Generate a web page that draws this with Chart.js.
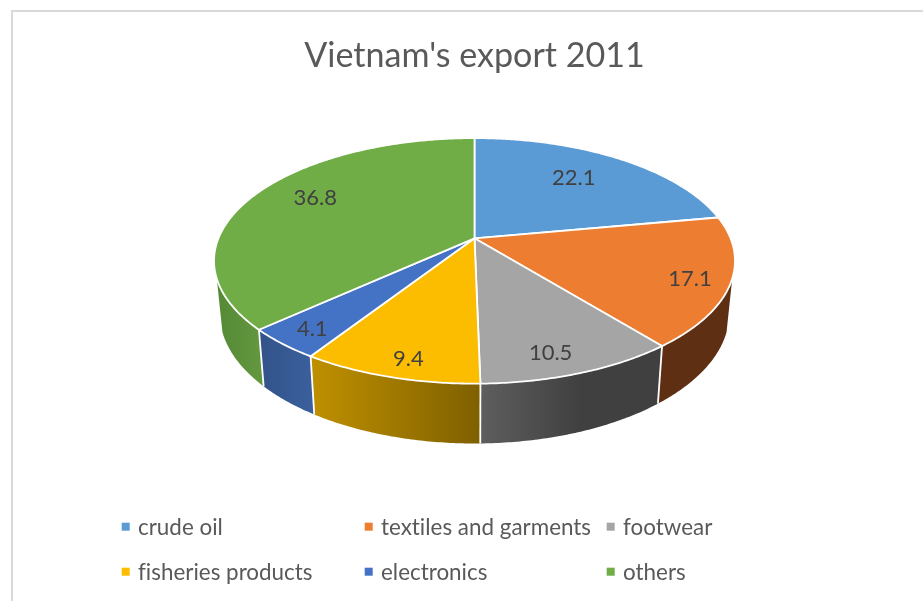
<!DOCTYPE html>
<html>
<head>
<meta charset="utf-8">
<script src="https://cdn.jsdelivr.net/npm/chart.js@4"></script>
<style>
  html, body { margin: 0; padding: 0; background: #fff; overflow: hidden; width: 923px; height: 601px; }
  #frame { position: absolute; left: 11px; top: 10px; width: 930px; height: 600px;
           border-left: 2px solid #d9d9d9; border-top: 2px solid #d9d9d9; }
  #stage { position: absolute; left: 0; top: 0; width: 921px; height: 589px; }
</style>
</head>
<body>
<div id="frame"><div id="stage"><canvas id="pie"></canvas></div></div>
<script>
const chartTitle = "Vietnam's export 2011";
const categories = ['crude oil', 'textiles and garments', 'footwear', 'fisheries products', 'electronics', 'others'];
const shares = [22.1, 17.1, 10.5, 9.4, 4.1, 36.8];
const faceColors = ['#5B9BD5', '#ED7D31', '#A5A5A5', '#FCBD00', '#4472C4', '#70AD47'];
const wallColors = [
  ['#355d80', '#355d80'],
  ['#5f2f13', '#5f2f13'],
  ['#5e5e5e', '#404040'],
  ['#bf9000', '#7f6000'],
  ['#335389', '#3a5f9c'],
  ['#558a35', '#62963f']
];

// Tilted-disc projection, expressed as multiples of the pie's radius.
const TILT = { rimX: 1.666, rimY: 0.772, perspective: 0.1837 };
const BASE = { shrinkX: 0.978, growY: 1.06, drop: 0.3325 };
const WALL_FROM = 108.7 * Math.PI / 180;
const WALL_TO = 251.3 * Math.PI / 180;

// Where each value label sits on the disc (fractions of the radius, right and toward the viewer).
const labelSpots = [[0.427, -0.559], [0.791, 0.3255], [0.2527, 0.818], [-0.2177, 0.8545], [-0.556, 0.667], [-0.663, -0.36]];

const legendColumns = [125, 368, 610];
const legendRows = [514.7, 559.7];

function project(arc, u, v, onBase) {
  const r = arc.outerRadius;
  const w = 1 - TILT.perspective * v;
  const x = TILT.rimX * r * u / w;
  const y = TILT.rimY * r * v / w;
  if (!onBase) return [arc.x + x, arc.y + y];
  return [arc.x + BASE.shrinkX * x, arc.y + BASE.drop * r + BASE.growY * y];
}

// Angle measured clockwise from twelve o'clock.
function rimPoint(arc, theta, onBase) {
  return project(arc, Math.sin(theta), -Math.cos(theta), onBase);
}

function traceRim(ctx, arc, from, to, onBase, moveFirst) {
  const steps = Math.max(2, Math.ceil(Math.abs(to - from) / 0.01));
  for (let i = 0; i <= steps; i++) {
    const p = rimPoint(arc, from + (to - from) * i / steps, onBase);
    if (i === 0 && moveFirst) ctx.moveTo(p[0], p[1]); else ctx.lineTo(p[0], p[1]);
  }
}

const tiltedPie = {
  id: 'tiltedPie',
  beforeDatasetsDraw(chart) {
    const ctx = chart.ctx;
    const arcs = chart.getDatasetMeta(0).data;
    const turn = a => a + Math.PI / 2;
    ctx.save();

    // Side walls of the slices facing the viewer.
    arcs.forEach((arc, i) => {
      const from = Math.max(turn(arc.startAngle), WALL_FROM);
      const to = Math.min(turn(arc.endAngle), WALL_TO);
      if (to <= from) return;
      const a = rimPoint(arc, from, false), b = rimPoint(arc, to, false);
      const grad = ctx.createLinearGradient(Math.min(a[0], b[0]), 0, Math.max(a[0], b[0]), 0);
      const leftFirst = wallColors[i];
      grad.addColorStop(0, leftFirst[0]);
      grad.addColorStop(i === 2 ? 0.55 : 1, leftFirst[1]);
      ctx.beginPath();
      traceRim(ctx, arc, from, to, false, true);
      traceRim(ctx, arc, to, from, true, false);
      ctx.closePath();
      ctx.fillStyle = grad;
      ctx.fill();
    });

    // White seams between neighbouring walls.
    ctx.strokeStyle = '#ffffff';
    ctx.lineWidth = 1.8;
    arcs.forEach(arc => {
      const t = turn(arc.endAngle);
      if (t <= WALL_FROM || t >= WALL_TO) return;
      const a = rimPoint(arc, t, false), b = rimPoint(arc, t, true);
      ctx.beginPath();
      ctx.moveTo(a[0], a[1]);
      ctx.lineTo(b[0], b[1]);
      ctx.stroke();
    });

    // Top faces with their white outlines.
    ctx.lineJoin = 'round';
    arcs.forEach((arc, i) => {
      ctx.beginPath();
      ctx.moveTo(arc.x, arc.y);
      traceRim(ctx, arc, turn(arc.startAngle), turn(arc.endAngle), false, false);
      ctx.closePath();
      ctx.fillStyle = faceColors[i];
      ctx.fill();
      ctx.stroke();
    });

    // Value labels.
    ctx.fillStyle = '#404040';
    ctx.font = '22px Lato';
    ctx.textAlign = 'center';
    ctx.textBaseline = 'middle';
    arcs.forEach((arc, i) => {
      const p = project(arc, labelSpots[i][0], labelSpots[i][1], false);
      ctx.fillText(shares[i].toFixed(1), p[0], p[1]);
    });
    ctx.restore();
    return false;
  },
  afterDraw(chart) {
    // Legend set out on a fixed three-column grid.
    const ctx = chart.ctx;
    ctx.save();
    ctx.font = '22.4px Lato';
    ctx.letterSpacing = '0.01px';
    ctx.textAlign = 'left';
    ctx.textBaseline = 'middle';
    categories.forEach((name, i) => {
      const x = legendColumns[i % 3], y = legendRows[Math.floor(i / 3)];
      ctx.fillStyle = faceColors[i];
      ctx.fillRect(x - 16.3, y - 4, 8, 8);
      ctx.fillStyle = '#595959';
      ctx.fillText(name, x, y + 1);
    });
    ctx.restore();
  }
};

new Chart(document.getElementById('pie'), {
  type: 'pie',
  data: {
    labels: categories,
    datasets: [{ data: shares, backgroundColor: faceColors, borderWidth: 0 }]
  },
  options: {
    responsive: true,
    maintainAspectRatio: false,
    animation: false,
    layout: { padding: { left: 2, right: 0, top: 0, bottom: 209 } },
    plugins: {
      legend: { display: false },
      tooltip: { enabled: false },
      title: {
        display: true,
        text: chartTitle,
        color: '#595959',
        font: { family: 'Lato', size: 34.1, weight: 'normal', lineHeight: 1.2 },
        padding: { top: 24, bottom: 7.7 }
      }
    }
  },
  plugins: [tiltedPie]
});
</script>
</body>
</html>
